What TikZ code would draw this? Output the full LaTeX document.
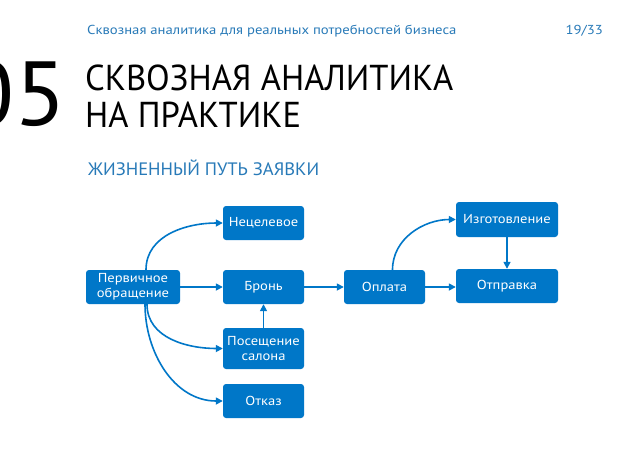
\documentclass[tikz,border=0pt]{standalone}
\usepackage{fontspec}
\setmainfont{PT Sans}
\newfontfamily\titlefont[FakeStretch=0.96]{PT Sans}
\newfontfamily\numfont[FakeStretch=1.05]{PT Sans}
\newfontfamily\subfont[FakeStretch=1.03]{PT Sans}
\newfontfamily\hdrfont[FakeStretch=1.13]{PT Sans}
\newfontfamily\boxfont[FakeStretch=1.12]{PT Sans}
\usetikzlibrary{arrows.meta}
\definecolor{boxblue}{RGB}{0,119,200}
\definecolor{headblue}{RGB}{40,122,184}
\tikzset{
  box/.style={draw=none, fill=boxblue, rounded corners=3pt, text=white, align=center,
    inner sep=0pt, font=\boxfont\fontsize{13}{15}\selectfont},
  conn/.style={draw=boxblue, line width=1.6pt, -{Triangle[length=7pt,width=7pt]}},
}
\begin{document}
\begin{tikzpicture}[x=1pt,y=-1pt]
\useasboundingbox (0,0) rectangle (638,451);
\fill[white] (0,0) rectangle (638,451);
% header
\node[anchor=west, text=headblue, font=\hdrfont\fontsize{13}{14}\selectfont, inner sep=0pt] (hdr) at (87,31) {Сквозная аналитика для реальных потребностей бизнеса};
\node[anchor=east, text=headblue, font=\hdrfont\fontsize{13}{14}\selectfont, inner sep=0pt] (pg) at (603,31) {19/33};
% big number
\node[anchor=south east, font=\numfont\fontsize{91}{91}\selectfont, inner sep=0pt] (num) at (67,127) {05};
\node[anchor=base west, font=\titlefont\fontsize{36}{36}\selectfont, inner sep=0pt] (t1) at (85,90) {СКВОЗНАЯ АНАЛИТИКА};
\node[anchor=base west, font=\titlefont\fontsize{36}{36}\selectfont, inner sep=0pt] (t2) at (85,127) {НА ПРАКТИКЕ};
\node[anchor=base west, text=headblue, font=\subfont\fontsize{18}{18}\selectfont, inner sep=0pt] (sub) at (88,175) {ЖИЗНЕННЫЙ ПУТЬ ЗАЯВКИ};
% boxes
\node[box, minimum width=94pt, minimum height=34pt] (perv) at (133,287) {Первичное\\обращение};
\node[box, minimum width=81pt, minimum height=34pt] (nec) at (263.5,223) {Нецелевое};
\node[box, minimum width=81pt, minimum height=34pt] (bron) at (263.5,287) {Бронь};
\node[box, minimum width=81pt, minimum height=41pt] (pos) at (263.5,348.5) {Посещение\\салона};
\node[box, minimum width=81pt, minimum height=34pt] (otk) at (263.5,401) {Отказ};
\node[box, minimum width=81pt, minimum height=34pt] (opl) at (384.5,287) {Оплата};
\node[box, minimum width=102pt, minimum height=35pt] (izg) at (507,219.5) {Изготовление};
\node[box, minimum width=102pt, minimum height=34pt] (otp) at (507,286) {Отправка};
% connectors
\draw[conn] (perv.east) -- (bron.west);
\draw[conn] (bron.east) -- (opl.west);
\draw[conn] (opl.east) -- (opl.east -| otp.west);
\draw[conn] (pos.north) -- (bron.south);
\draw[conn] (izg.south) -- (otp.north);
\draw[conn] ([xshift=13pt]perv.north) to[out=90,in=180] (nec.west);
\draw[conn] ([xshift=14pt]perv.south) to[out=-90,in=180] (pos.west);
\draw[conn] ([xshift=12pt]perv.south) to[out=-90,in=180] (otk.west);
\draw[conn] ([xshift=8pt]opl.north) to[out=90,in=180] (izg.west);
\end{tikzpicture}
\end{document}
